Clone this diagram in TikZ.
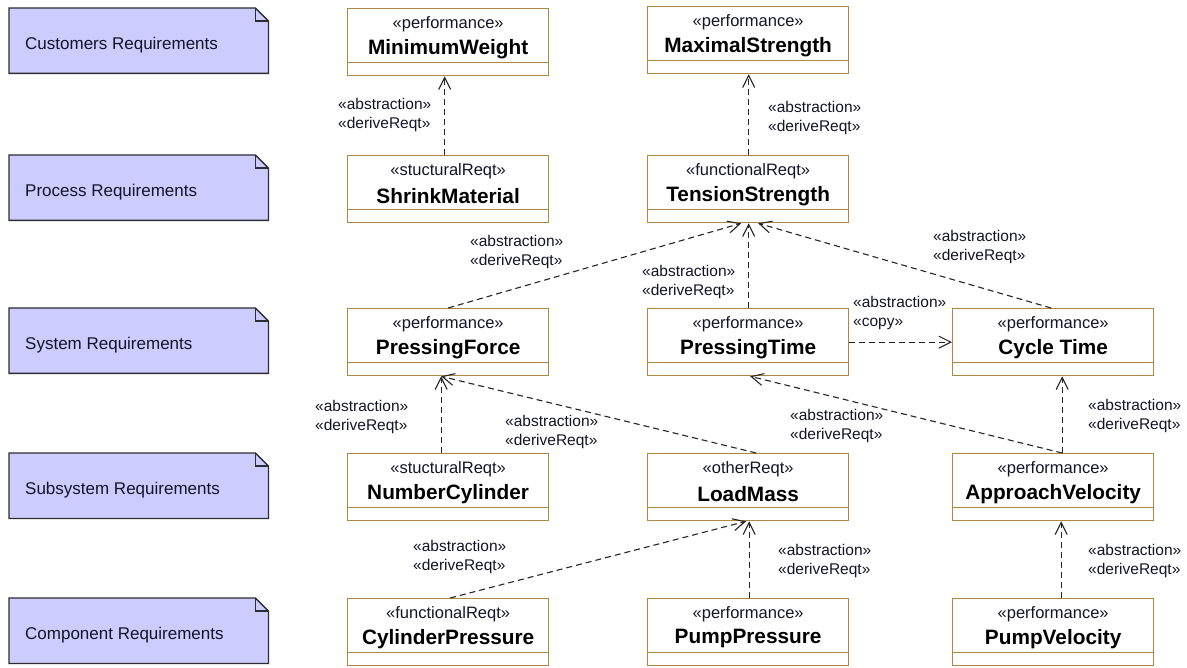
\documentclass[tikz,border=0pt]{standalone}
\usepackage{fontspec}
\setmainfont{Liberation Sans}
\usetikzlibrary{arrows.meta,backgrounds,calc}

\definecolor{boxline}{RGB}{172,136,66}
\definecolor{notefill}{RGB}{204,204,255}
\definecolor{noteline}{RGB}{45,45,50}
\definecolor{inktext}{RGB}{20,20,40}

\tikzset{
  reqbox/.style={draw=boxline, line width=1.3pt, fill=white,
    minimum width=201pt, minimum height=67pt, inner sep=0pt, anchor=north west,
    path picture={\draw[boxline, line width=1.3pt]
      ([yshift=13pt]path picture bounding box.south west) --
      ([yshift=13pt]path picture bounding box.south east);}},
  stereo/.style={font=\fontsize{16.5}{18}\selectfont, text=inktext, inner sep=0pt},
  reqname/.style={font=\fontsize{20.8}{22}\selectfont\bfseries, inner sep=0pt},
  notebox/.style={minimum width=259pt, minimum height=65pt, anchor=north west, inner sep=0pt},
  notetext/.style={font=\fontsize{17}{19}\selectfont, text=inktext, anchor=west, inner sep=0pt},
  noteshape/.style={draw=noteline, fill=notefill, line width=1.3pt, line join=miter},
  trace/.style={dash pattern=on 6pt off 4pt, line width=1.1pt, draw=black!85,
    -{Straight Barb[length=12pt,width=12pt]}},
  tag/.style={font=\fontsize{15.5}{18.5}\selectfont, text=inktext, align=left,
    anchor=west, inner sep=0pt},
}

% requirement block: name, left x, top y, stereotype, title
\newcommand\reqblock[5]{%
  \node[reqbox] (#1) at (#2,#3) {};
  \node[stereo] (#1-st) at ($(#1.north)+(0,16)$) {«#4»};
  \node[reqname] (#1-nm) at ($(#1.north)+(0,41)$) {#5};
}
% level note on the left: name, top y, text
\newcommand\layernote[3]{%
  \node[notebox] (#1) at (9,#2) {};
  \node[notetext] (#1-t) at ($(#1.west)+(16,4)$) {#3};
}

\begin{document}
\begin{tikzpicture}[x=1pt, y=-1pt]
\useasboundingbox (0,0) rectangle (1187,668);

% level notes
\layernote{cust}{8}{Customers Requirements}
\layernote{proc}{155}{Process Requirements}
\layernote{sys}{308}{System Requirements}
\layernote{sub}{453}{Subsystem Requirements}
\layernote{comp}{598}{Component Requirements}

% requirement blocks
\reqblock{minw}{347}{8}{performance}{MinimumWeight}
\reqblock{maxs}{647}{6}{performance}{MaximalStrength}
\reqblock{shrink}{347}{155}{stucturalReqt}{ShrinkMaterial}
\reqblock{tension}{647}{155}{functionalReqt}{TensionStrength}
\reqblock{pforce}{347}{308}{performance}{PressingForce}
\reqblock{ptime}{647}{308}{performance}{PressingTime}
\reqblock{cycle}{952}{308}{performance}{Cycle Time}
\reqblock{numcyl}{347}{453}{stucturalReqt}{NumberCylinder}
\reqblock{load}{647}{453}{otherReqt}{LoadMass}
\reqblock{approach}{952}{453}{performance}{ApproachVelocity}
\reqblock{cylp}{347}{598}{functionalReqt}{CylinderPressure}
\reqblock{pump}{647}{598}{performance}{PumpPressure}
\reqblock{pumpv}{952}{598}{performance}{PumpVelocity}

% note outlines with folded corner
\begin{scope}[on background layer]
  \fill[white] (0,0) rectangle (1187,668);
  \foreach \n in {cust,proc,sys,sub,comp}{
    \draw[noteshape] (\n.south west) -- (\n.north west) -- ([xshift=-13pt]\n.north east)
      -- ([yshift=-13pt]\n.north east) -- (\n.south east) -- cycle;
    \draw[noteline, line width=1.3pt] ([xshift=-13pt]\n.north east)
      -- ([xshift=-13pt,yshift=-13pt]\n.north east) -- ([yshift=-13pt]\n.north east);
  }
\end{scope}

% derivation traces
\draw[trace] ([xshift=-3.5pt]shrink.north) -- ([xshift=-3.5pt]minw.south);
\draw[trace] ([xshift=0.5pt]tension.north) -- ([xshift=0.5pt]maxs.south);
\draw[trace] (pforce.north) -- ([xshift=-7pt]tension.south);
\draw[trace] ([xshift=0.5pt]ptime.north) -- ([xshift=0.5pt]tension.south);
\draw[trace] ([xshift=-2pt]cycle.north) -- ([xshift=10pt]tension.south);
\draw[trace] (ptime.east) -- (cycle.west);
\draw[trace] ([xshift=-7pt]numcyl.north) -- ([xshift=-7pt]pforce.south);
\draw[trace] ([xshift=8pt]load.north) -- ([xshift=-7pt]pforce.south);
\draw[trace] ([xshift=9pt]approach.north) -- ([xshift=2pt]ptime.south);
\draw[trace] ([xshift=9pt]approach.north) -- ([xshift=9pt]cycle.south);
\draw[trace] ([xshift=2pt]cylp.north) -- ([xshift=-2pt]load.south);
\draw[trace] ([xshift=1pt]pump.north) -- ([xshift=1pt]load.south);
\draw[trace] ([xshift=8pt]pumpv.north) -- ([xshift=8pt]approach.south);

% trace labels
\node[tag] (l1) at (338,115) {«abstraction»\\«deriveReqt»};
\node[tag] (l2) at (768,118) {«abstraction»\\«deriveReqt»};
\node[tag] (l3) at (470,252) {«abstraction»\\«deriveReqt»};
\node[tag] (l4) at (642,282) {«abstraction»\\«deriveReqt»};
\node[tag] (l5) at (933,247) {«abstraction»\\«deriveReqt»};
\node[tag] (l6) at (853,313) {«abstraction»\\«copy»};
\node[tag] (l7) at (315,417) {«abstraction»\\«deriveReqt»};
\node[tag] (l8) at (505,432) {«abstraction»\\«deriveReqt»};
\node[tag] (l9) at (790,426) {«abstraction»\\«deriveReqt»};
\node[tag] (l10) at (1088,416) {«abstraction»\\«deriveReqt»};
\node[tag] (l11) at (413,557) {«abstraction»\\«deriveReqt»};
\node[tag] (l12) at (778,561) {«abstraction»\\«deriveReqt»};
\node[tag] (l13) at (1088,561) {«abstraction»\\«deriveReqt»};
\end{tikzpicture}
\end{document}
